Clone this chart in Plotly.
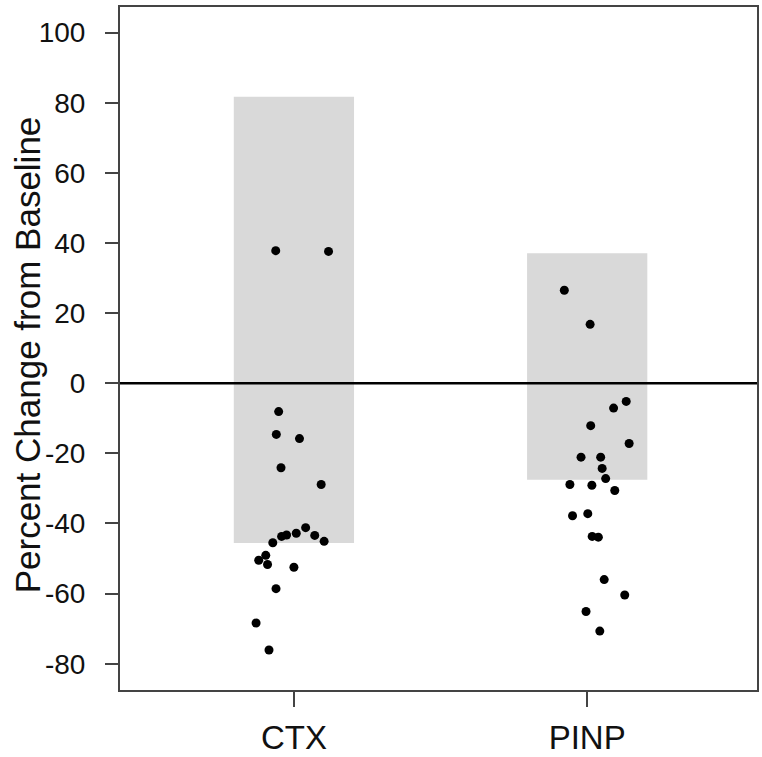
import plotly.graph_objects as go

categories = ["CTX", "PINP"]
cat_pos = [1, 2]

# gray band limits (percent change)
band_upper = [81.7, 37.1]
band_lower = [-45.6, -27.5]

# CTX individual points
ctx_x = [0.938, 1.118, 0.948, 0.940, 1.019, 0.956, 1.093, 1.040, 1.008, 0.975, 0.958,
         1.071, 1.103, 0.928, 0.904, 0.880, 0.910, 1.000, 0.939, 0.871, 0.915]
ctx_y = [37.8, 37.6, -8.1, -14.6, -15.8, -24.1, -28.9, -41.2, -42.8, -43.3, -43.7,
         -43.4, -45.1, -45.5, -49.1, -50.5, -51.7, -52.5, -58.6, -68.4, -76.1]

# PINP individual points
pinp_x = [1.922, 2.010, 2.133, 2.090, 2.012, 2.143, 1.979, 2.046, 2.051, 2.063, 1.941,
          2.016, 2.094, 1.950, 2.002, 2.017, 2.038, 2.058, 2.128, 1.996, 2.043]
pinp_y = [26.5, 16.8, -5.2, -7.1, -12.1, -17.2, -21.1, -21.1, -24.3, -27.2, -28.9,
          -29.1, -30.6, -37.8, -37.2, -43.7, -43.9, -56.0, -60.4, -65.1, -70.7]

y_ticks = [-80, -60, -40, -20, 0, 20, 40, 60, 80, 100]
y_tick_labels = [str(v) for v in y_ticks]

fig = go.Figure()
fig.add_trace(go.Bar(
    x=cat_pos,
    base=band_lower,
    y=[u - l for u, l in zip(band_upper, band_lower)],
    width=0.41,
    marker=dict(color="#d9d9d9", line=dict(width=0)),
    showlegend=False,
    hoverinfo="skip",
))
for xs, ys in [(ctx_x, ctx_y), (pinp_x, pinp_y)]:
    fig.add_trace(go.Scatter(
        x=xs, y=ys, mode="markers",
        marker=dict(color="black", size=9),
        showlegend=False,
    ))

fig.add_shape(type="line", xref="x domain", x0=0, x1=1, yref="y", y0=0, y1=0,
              line=dict(color="black", width=2.5), layer="above")

font_family = "Liberation Sans, Arial, sans-serif"
fig.update_layout(
    width=762, height=757,
    margin=dict(l=120, r=5, t=7, b=67, autoexpand=False),
    paper_bgcolor="white", plot_bgcolor="white",
    font=dict(family=font_family, color="#111"),
    xaxis=dict(
        range=[0.407, 2.579],
        tickvals=cat_pos, ticktext=categories,
        ticks="outside", ticklen=15, tickwidth=1.5, tickcolor="#444",
        tickfont=dict(size=33, family=font_family, color="#111"),
        ticklabelstandoff=2,
        automargin=False,
        showline=True, linecolor="#444", linewidth=2, mirror=True,
        showgrid=False, zeroline=False,
    ),
    yaxis=dict(
        range=[-87.5, 107.3],
        tickvals=y_ticks, ticktext=y_tick_labels,
        ticks="outside", ticklen=13, tickwidth=1.5, tickcolor="#444",
        tickfont=dict(size=28, family=font_family, color="#111"),
        ticklabelstandoff=14,
        automargin=False,
        showline=True, linecolor="#444", linewidth=2, mirror=True,
        showgrid=False, zeroline=False,
    ),
    annotations=[dict(
        text="Percent Change from Baseline",
        textangle=-90,
        xref="paper", x=0, xanchor="center", xshift=-93,
        yref="paper", y=0.49, yanchor="middle",
        showarrow=False,
        font=dict(size=35, family=font_family, color="#111"),
    )],
)

fig.write_html(
    "out.html",
    config={"displayModeBar": False},
    post_script="document.body.style.margin='0';document.body.style.overflow='hidden';",
)
